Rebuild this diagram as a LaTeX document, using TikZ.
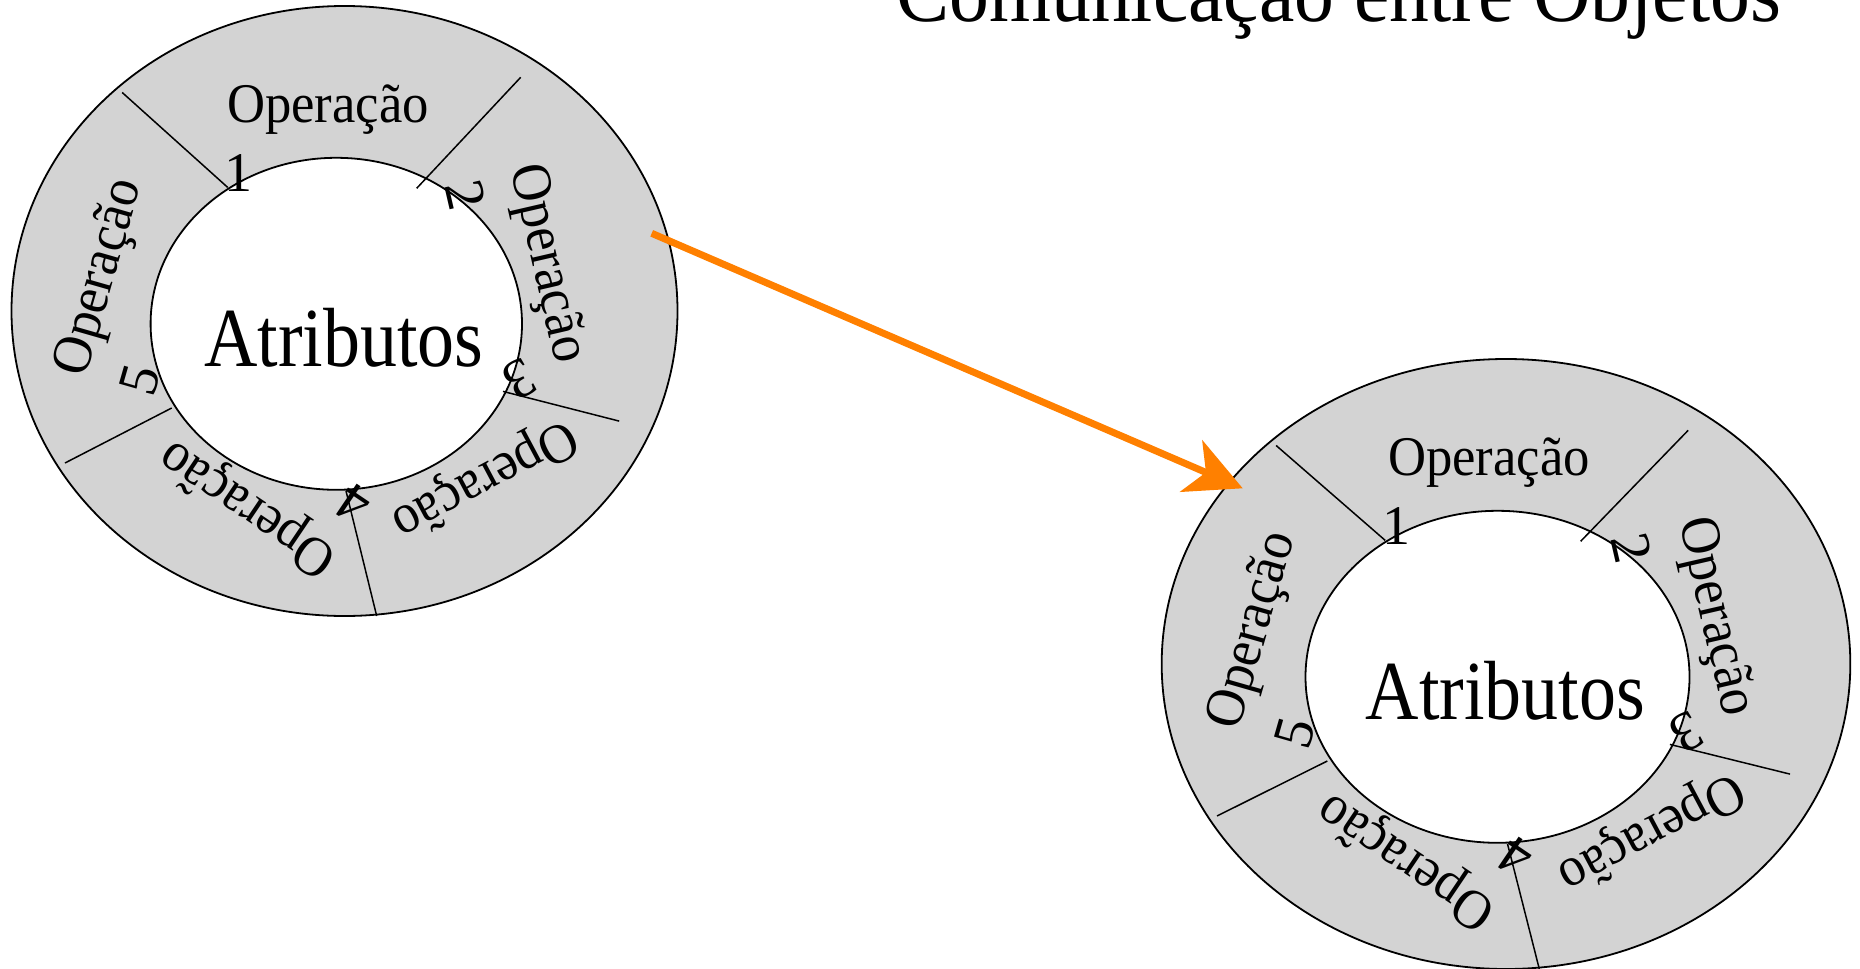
\documentclass[tikz,border=0pt]{standalone}
\usepackage{fontspec}
\setmainfont{Liberation Serif}
\usepackage{graphicx}
\usetikzlibrary{arrows.meta}

\definecolor{ringfill}{RGB}{211,211,211}
\definecolor{msgorange}{RGB}{255,128,0}

\newcommand{\opfont}{\fontsize{28pt}{32pt}\selectfont}
\newcommand{\attrfont}{\fontsize{42pt}{48pt}\selectfont}
\newcommand{\titlefont}{\fontsize{42pt}{48pt}\selectfont}
\newcommand{\oplabel}{\scalebox{0.94}[1]{Operação}}

\tikzset{
  ringedge/.style={line width=0.9pt},
  divider/.style={line width=0.75pt},
  oplbl/.style={inner sep=0pt, font=\opfont},
  attrlbl/.style={inner sep=0pt, font=\attrfont},
  message/.style={draw=msgorange, line width=3.5pt,
    -{Stealth[length=28pt, width=28pt, inset=8pt, fill=msgorange]}},
  % an object: attributes in the middle, five operations around them
  objring/.pic={
    \fill[ringfill] (0,0) ellipse [x radius=333, y radius=305];
    \draw[ringedge] (0,0) ellipse [x radius=333, y radius=305];
    \filldraw[fill=white, ringedge] (-8.2,12.8) ellipse [x radius=185.7, y radius=166];
    \draw[divider] (-222.3,-218.5) -- (-116.8,-123.6);
    \draw[divider] (176.2,-233.7) -- (72.2,-122.7);
    \draw[divider] (274.7,110.1) -- (158.5,80.4);
    \draw[divider] (32.2,305) -- (1.5,180);
    \draw[divider] (-279.5,152) -- (-172.8,97);
    \node[oplbl] (-op1) at (-16.5,-201.5) {\oplabel};
    \node[oplbl] (-n1) at (-106.1,-137.8) {1};
    \node[oplbl, rotate=-77] (-op2) at (201.5,-47) {\oplabel};
    \node[oplbl, rotate=-77] (-n2) at (121.5,-116) {2};
    \node[oplbl, rotate=-152] (-op3) at (139.5,167) {\oplabel};
    \node[oplbl, rotate=-152] (-n3) at (175.1,68.6) {3};
    \node[oplbl, rotate=146] (-op4) at (-95.5,195.5) {\oplabel};
    \node[oplbl, rotate=146] (-n4) at (9,193.1) {4};
    \node[oplbl, rotate=74] (-op5) at (-243.5,-33) {\oplabel};
    \node[oplbl, rotate=74] (-n5) at (-204.5,69) {5};
    \node[attrlbl] (-attr) at (-0.5,26.3) {\scalebox{0.88}[1]{Atributos}};
  }
}

\begin{document}
\begin{tikzpicture}[x=0.5pt, y=-0.5pt]
  \useasboundingbox (0,0) rectangle (1860,969);

  \node[anchor=base west, inner sep=0pt, font=\titlefont] (title) at (896,21.7)
    {\scalebox{0.948}[1]{Comunicação entre Objetos}};

  \pic (sender) at (344.5,311) {objring};
  \pic[xscale=1.034] (receiver) at (1506,664) {objring};

  \coordinate (msgstart) at (651.7,233.3);
  \coordinate (msgend) at (1242.7,488.3);
  \draw[message] (msgstart) -- (msgend);
\end{tikzpicture}
\end{document}
